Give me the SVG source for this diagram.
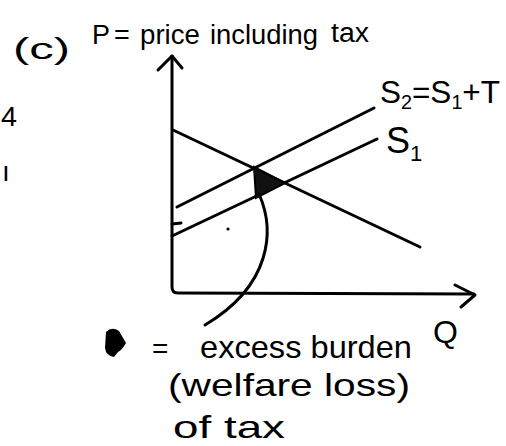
<svg xmlns="http://www.w3.org/2000/svg" width="506" height="446" viewBox="0 0 506 446">
<style>
.ln{fill:none;stroke:#000;stroke-width:3;stroke-linecap:round;stroke-linejoin:round}
.tx{font-family:"Liberation Sans","DejaVu Sans",sans-serif;fill:#000}
</style>
<rect width="506" height="446" fill="#fff"/>
<g id="fragments">
<text class="tx" x="1" y="126" font-size="28" textLength="16" lengthAdjust="spacingAndGlyphs">4</text>
<text class="tx" x="2" y="181" font-size="28">ı</text>
</g>
<g id="title">
<text class="tx" x="13" y="59" font-size="30" textLength="57" lengthAdjust="spacingAndGlyphs">(c)</text>
<text class="tx" y="44" font-size="27"><tspan x="92">P</tspan><tspan x="114">=</tspan><tspan x="140" textLength="60" lengthAdjust="spacingAndGlyphs">price</tspan><tspan x="210" textLength="108" lengthAdjust="spacingAndGlyphs">including</tspan><tspan x="331" y="42" textLength="38" lengthAdjust="spacingAndGlyphs">tax</tspan></text>
</g>
<g id="axes">
<path class="ln" d="M172,56 L172,287 Q172,293 178,293 L474,294"/>
<path class="ln" d="M158,70 L172,56 L182,68"/>
<path class="ln" d="M455,285 L475,295 L461,307"/>
<text class="tx" x="433" y="343" font-size="32">Q</text>
</g>
<g id="demand">
<path class="ln" d="M173,130 L420,247"/>
</g>
<g id="supply1">
<path class="ln" d="M172,236 L377,139"/>
<text class="tx" x="386" y="153" font-size="36">S<tspan font-size="22" dy="8">1</tspan></text>
</g>
<g id="supply2">
<path class="ln" d="M177,207 L374,108"/>
<text class="tx" x="380" y="103" font-size="32" textLength="120" lengthAdjust="spacingAndGlyphs">S<tspan font-size="20" dy="6">2</tspan><tspan dy="-6">=S</tspan><tspan font-size="20" dy="6">1</tspan><tspan dy="-6">+T</tspan></text>
</g>
<g id="ticks">
<path class="ln" d="M172,224 L181,223" stroke-width="4"/>
<circle cx="228" cy="229" r="1.6" fill="#000"/>
</g>
<g id="excess-burden">
<path d="M254,167 L285,183 L256,198 Z" fill="#111" stroke="#000" stroke-width="2"/>
</g>
<g id="connectors">
<path class="ln" d="M259,194 C275,230 272,285 205,325"/>
</g>
<g id="legend">
<path d="M106,332 Q112,326 119,331 L126,343 Q122,350 118,352 L114,357 Q106,356 105,348 Z" fill="#000"/>
<text class="tx" x="152" y="358" font-size="28">=</text>
<text class="tx" x="200" y="358" font-size="32" textLength="212" lengthAdjust="spacingAndGlyphs">excess burden</text>
<text class="tx" x="168" y="396" font-size="32" textLength="242" lengthAdjust="spacingAndGlyphs">(welfare loss)</text>
<text class="tx" x="173" y="438" font-size="32" textLength="112" lengthAdjust="spacingAndGlyphs">of tax</text>
</g>
</svg>
